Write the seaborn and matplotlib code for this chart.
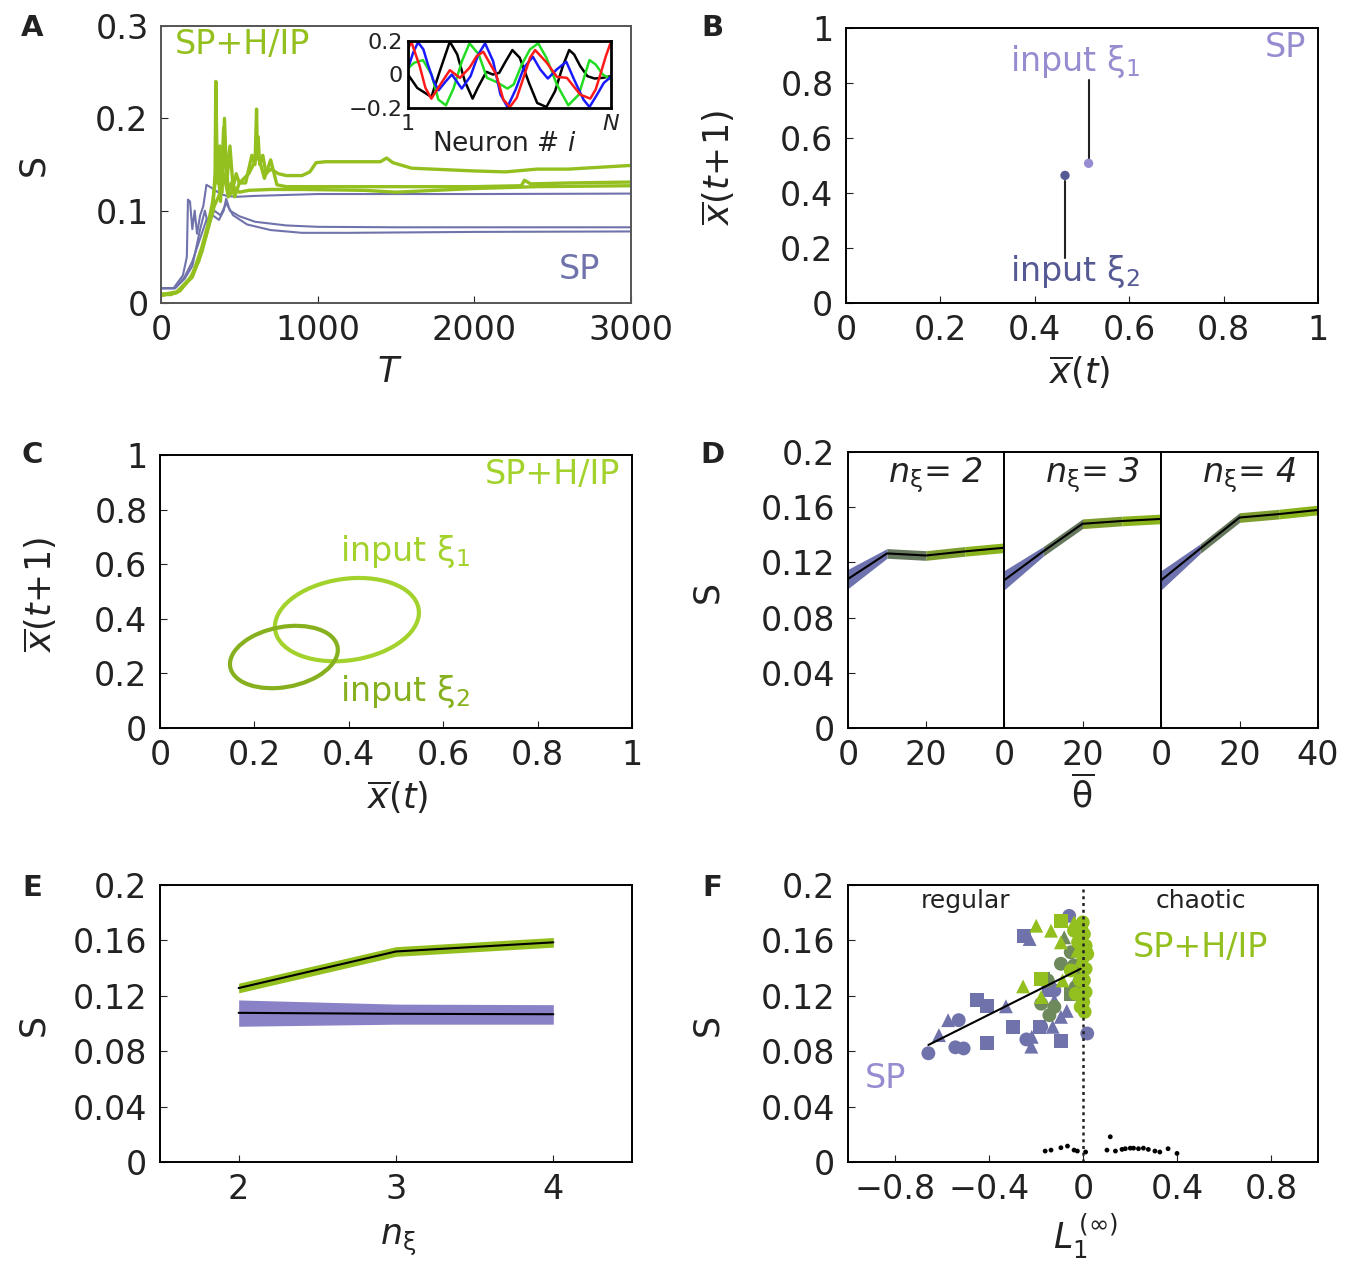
import matplotlib
matplotlib.use("Agg")
import matplotlib.pyplot as plt
import numpy as np
import pandas as pd
import seaborn as sns
from matplotlib.patches import Ellipse

# ── colours ──────────────────────────────────────────────────────────────────
PURPLE = "#7073ab"
PURPLE_LIGHT = "#958dd0"
PURPLE_DARK = "#565a94"
PURPLE_FILL = "#8a82c6"
GREEN = "#93c01f"
GREEN_LIGHT = "#a3d22c"
GREEN_DARK = "#86b01e"
MIXED = "#6e8a5c"

# ── A: S over learning time T ───────────────────────────────────────────────
a_sp1_t = [0, 80, 140, 165, 172, 185, 200, 215, 230, 250, 270, 290, 330, 380, 420, 480, 600, 1000, 2000, 3000]
a_sp1_s = [0.016, 0.016, 0.030, 0.050, 0.112, 0.110, 0.080, 0.100, 0.075, 0.095, 0.105, 0.128, 0.124, 0.118,
           0.116, 0.115, 0.116, 0.118, 0.118, 0.1185]
a_sp2_t = [0, 90, 150, 200, 250, 290, 330, 370, 400, 416, 440, 500, 600, 800, 1000, 1500, 2000, 3000]
a_sp2_s = [0.016, 0.016, 0.028, 0.045, 0.070, 0.090, 0.095, 0.090, 0.100, 0.113, 0.100, 0.094, 0.088, 0.084,
           0.0825, 0.082, 0.082, 0.082]
a_sp3_t = [0, 90, 150, 200, 250, 280, 300, 340, 380, 416, 460, 550, 700, 900, 1200, 2000, 3000]
a_sp3_s = [0.016, 0.016, 0.026, 0.040, 0.080, 0.100, 0.085, 0.100, 0.095, 0.108, 0.095, 0.085, 0.079, 0.076,
           0.076, 0.077, 0.0775]

a_hip1_t = [0, 60, 120, 180, 240, 290, 330, 345, 350, 360, 375, 390, 405, 420, 440, 460, 480, 500, 540, 580,
            600, 610, 615, 620, 630, 650, 670, 700, 750, 800, 900, 950, 990, 1050, 1400, 1440, 1480, 1600,
            2000, 2200, 2400, 2600, 3000]
a_hip1_s = [0.010, 0.009, 0.013, 0.025, 0.045, 0.075, 0.100, 0.140, 0.240, 0.130, 0.170, 0.120, 0.200, 0.130,
            0.170, 0.125, 0.140, 0.130, 0.130, 0.160, 0.150, 0.210, 0.160, 0.180, 0.150, 0.160, 0.140, 0.145,
            0.140, 0.138, 0.138, 0.142, 0.152, 0.153, 0.153, 0.157, 0.152, 0.146, 0.143, 0.142, 0.145, 0.145,
            0.149]
a_hip2_t = [0, 100, 200, 260, 300, 330, 360, 380, 400, 430, 450, 470, 500, 560, 620, 660, 700, 740, 800, 1000,
            1500, 2000, 2300, 2320, 2360, 2600, 3000]
a_hip2_s = [0.008, 0.011, 0.030, 0.060, 0.085, 0.110, 0.150, 0.110, 0.190, 0.120, 0.130, 0.115, 0.130, 0.140,
            0.160, 0.135, 0.155, 0.128, 0.126, 0.126, 0.126, 0.126, 0.127, 0.133, 0.129, 0.130, 0.131]
a_hip3_t = [0, 100, 200, 260, 300, 340, 380, 400, 430, 470, 500, 560, 700, 900, 1300, 1500, 2000, 2400, 3000]
a_hip3_s = [0.009, 0.012, 0.028, 0.055, 0.080, 0.105, 0.120, 0.140, 0.115, 0.125, 0.120, 0.122, 0.123, 0.123,
            0.122, 0.120, 0.124, 0.126, 0.127]

# inset: input patterns over neuron index
inset_red_i = [1, 2.6, 6.7, 9.5, 12.4, 17.3, 21.4, 26.3, 31, 34.5, 37.7, 44, 47.5, 50.7, 54, 57.3, 60.5, 63,
               68.7, 73.6, 78.5, 85, 89.9, 92.5, 94.8, 97.5, 100]
inset_red_v = [0.15, 0.196, 0.05, -0.08, -0.144, -0.05, 0.026, -0.02, 0.04, 0.11, 0.136, 0.0, -0.15, -0.194,
               -0.14, -0.02, 0.10, 0.146, 0.07, -0.014, -0.02, -0.12, -0.144, -0.09, 0.0, 0.11, 0.196]
inset_blue_i = [1, 3.5, 5.9, 8.5, 10.8, 13.5, 15.9, 19.2, 22.4, 27.2, 31.5, 35.3, 38.6, 42.5, 46.1, 49.5,
                53.5, 57.5, 61.9, 65.5, 69.2, 73.5, 78.2, 82, 86.6, 89.5, 93.2, 96.5, 100]
inset_blue_v = [0.036, 0.13, 0.192, 0.15, 0.056, -0.04, -0.094, -0.044, 0.0, -0.084, -0.01, 0.12, 0.186,
                0.08, -0.12, -0.194, -0.09, 0.04, 0.106, 0.03, -0.024, 0.03, 0.076, -0.03, -0.15, -0.194,
                -0.12, -0.05, -0.014]
inset_black_i = [1, 5.5, 12.4, 16.5, 21.4, 25, 28.7, 32.5, 35, 39.2, 42.4, 45.5, 48.7, 51.9, 55.5, 60,
                 64, 68.5, 72.7, 76.5, 79.6, 82, 85, 88.5, 92, 95.9, 100]
inset_black_v = [0.0, -0.08, -0.134, 0.02, 0.196, 0.12, -0.04, -0.144, -0.08, 0.016, 0.0, 0.01, 0.08, 0.146,
                 0.10, -0.05, -0.17, -0.194, -0.10, 0.05, 0.146, 0.12, 0.05, -0.01, -0.024, -0.02, -0.01]
inset_green_i = [1, 4, 8.3, 12.5, 15.8, 19.5, 23.3, 27.3, 31, 35.5, 39.5, 44, 49.5, 52.5, 56.5, 60.5, 64.5,
                 68.5, 73.6, 79.2, 84.3, 89.5, 92.5, 96, 100]
inset_green_v = [0.036, 0.07, 0.086, 0.0, -0.15, -0.184, -0.08, 0.08, 0.186, 0.12, -0.02, -0.044, -0.084,
                 -0.06, 0.06, 0.15, 0.186, 0.10, -0.06, -0.184, -0.12, 0.086, 0.06, 0.0, -0.03]

# ── B: SP fixed points ──────────────────────────────────────────────────────
b_xi1 = (0.514, 0.508)
b_xi2 = (0.464, 0.464)

# ── C: SP+H/IP limit cycles (centre x, centre y, width, height, angle) ──────
c_xi1 = (0.396, 0.397, 0.33, 0.278, 45)
c_xi2 = (0.2625, 0.26, 0.253, 0.201, 45)

# ── D: S vs mean threshold ──────────────────────────────────────────────────
d_theta = [0, 10, 20, 30, 40]
d_n2 = [0.108, 0.1265, 0.125, 0.128, 0.1306]
d_n3 = [0.107, 0.128, 0.148, 0.150, 0.1515]
d_n4 = [0.107, 0.130, 0.1525, 0.155, 0.158]
d_err = [0.007, 0.0035, 0.0035, 0.0035, 0.0035]
d_seg_colors = ["#6e72ae", "#66785e", "#7e9e2e", "#8ab41c"]

# ── E: S vs number of inputs ────────────────────────────────────────────────
e_n = [2, 3, 4]
e_hip = [0.1256, 0.152, 0.1586]
e_hip_err = [0.0035, 0.0035, 0.0035]
e_sp = [0.1077, 0.107, 0.1067]
e_sp_lo = [0.098, 0.0995, 0.0995]
e_sp_hi = [0.117, 0.114, 0.1136]

# ── F: S vs Lyapunov exponent ───────────────────────────────────────────────
f_sp_x = [-0.658, -0.543, -0.508, -0.529, -0.241, 0.018, -0.059, -0.122, -0.178, -0.150,
          -0.452, -0.410, -0.298, -0.407, -0.094, -0.185, -0.251, -0.143,
          -0.613, -0.574, -0.328, -0.220, -0.218, -0.129, -0.227, -0.069, -0.094, -0.122]
f_sp_y = [0.0785, 0.0828, 0.082, 0.1024, 0.0885, 0.0928, 0.1777, 0.1239, 0.0976, 0.1287,
          0.1167, 0.1124, 0.0976, 0.0861, 0.0876, 0.0976, 0.1634, 0.1239,
          0.0916, 0.1024, 0.1124, 0.0833, 0.0904, 0.0976, 0.161, 0.1091, 0.1048, 0.1167]
f_sp_m = ["o"] * 10 + ["s"] * 8 + ["^"] * 10
f_hip_x = [-0.199, -0.136, -0.094, -0.038, -0.255, -0.010, -0.178, -0.087, -0.024,
           -0.094, -0.178, -0.010,
           0.004, 0.011, 0.001, 0.011, 0.004, 0.011, 0.001, 0.007, -0.021, -0.013, -0.031, -0.038,
           -0.010, -0.052, 0.018, -0.001]
f_hip_y = [0.1706, 0.167, 0.1586, 0.173, 0.1268, 0.1455, 0.1191, 0.1311, 0.1526,
           0.1742, 0.1323, 0.167,
           0.1646, 0.1562, 0.1478, 0.1395, 0.1311, 0.1227, 0.1155, 0.1084, 0.1586, 0.1311, 0.1215, 0.167,
           0.112, 0.1383, 0.1502, 0.173]
f_hip_m = ["^"] * 9 + ["s"] * 3 + ["o"] * 16
f_mix_x = [-0.052, -0.094, -0.031, -0.150, -0.143, -0.122, 0.011, -0.038, -0.178, -0.171, -0.052, -0.080, -0.017]
f_mix_y = [0.1514, 0.1431, 0.1263, 0.1311, 0.106, 0.112, 0.1526, 0.1419, 0.1143, 0.1323, 0.1215, 0.1622, 0.1359]
f_mix_m = ["o"] * 9 + ["s"] * 2 + ["^"] * 2
f_chaos_x = [-0.161, -0.136, -0.094, -0.066, -0.038, -0.024, 0.011, 0.102, 0.116, 0.138, 0.166, 0.180,
             0.201, 0.215, 0.236, 0.257, 0.278, 0.306, 0.327, 0.362, 0.400]
f_chaos_y = [0.0079, 0.0086, 0.0103, 0.0115, 0.0086, 0.0079, 0.0072, 0.0086, 0.0182, 0.0079, 0.0091, 0.0096,
             0.0100, 0.0100, 0.0096, 0.0100, 0.0091, 0.0079, 0.0072, 0.0096, 0.0062]
f_fit_x = [-0.658, -0.01]
f_fit_y = [0.0845, 0.1395]

# ── figure setup ────────────────────────────────────────────────────────────
W, H = 1346, 1266
FS = 24
sns.set_style("ticks")
plt.rcParams["font.family"] = ["DejaVu Sans"]
plt.rcParams.update({
    "mathtext.fontset": "dejavusans",
    "xtick.direction": "in",
    "ytick.direction": "in",
    "xtick.major.size": 5,
    "ytick.major.size": 5,
    "xtick.major.pad": 8,
    "ytick.major.pad": 9,
    "xtick.labelsize": FS,
    "ytick.labelsize": FS,
    "xtick.color": "#222222",
    "ytick.color": "#222222",
})

fig = plt.figure(figsize=(W / 100, H / 100), dpi=100)


def rect(l, t, r, b):
    return [l / W, 1 - b / H, (r - l) / W, (b - t) / H]


def ftext(x, y, s, **kw):
    fig.text(x / W, 1 - y / H, s, ha="center", va="center", **kw)


def frame(ax, color="black", lw=1.4):
    for sp in ax.spines.values():
        sp.set_visible(True)
        sp.set_color(color)
        sp.set_linewidth(lw)
    ax.tick_params(top=False, right=False)


LAB = dict(fontsize=FS + 1, color="#222222")

# ── A ───────────────────────────────────────────────────────────────────────
axA = fig.add_axes(rect(161, 26, 631, 303))
for t, s in [(a_sp1_t, a_sp1_s), (a_sp2_t, a_sp2_s), (a_sp3_t, a_sp3_s)]:
    sns.lineplot(x=t, y=s, ax=axA, color=PURPLE, lw=1.5)
for t, s in [(a_hip1_t, a_hip1_s), (a_hip2_t, a_hip2_s), (a_hip3_t, a_hip3_s)]:
    sns.lineplot(x=t, y=s, ax=axA, color=GREEN, lw=2.4)
axA.set_xlim(0, 3000)
axA.set_ylim(0, 0.3)
axA.set_xticks([0, 1000, 2000, 3000])
axA.set_yticks([0, 0.1, 0.2, 0.3])
axA.set_yticklabels(["0", "0.1", "0.2", "0.3"])
frame(axA, color="#555555")
axA.text(0.03, 0.935, "SP+H/IP", transform=axA.transAxes, color=GREEN, fontsize=FS, va="center")
axA.text(0.89, 0.12, "SP", transform=axA.transAxes, color=PURPLE, fontsize=FS, va="center", ha="center")

axI = fig.add_axes(rect(408, 41, 611, 108))
for i, v, c in [(inset_black_i, inset_black_v, "black"), (inset_green_i, inset_green_v, "#22dd22"),
                (inset_blue_i, inset_blue_v, "#1a1aff"), (inset_red_i, inset_red_v, "#ff1a1a")]:
    sns.lineplot(x=i, y=v, ax=axI, color=c, lw=1.8)
axI.set_xlim(1, 100)
axI.set_ylim(-0.2, 0.2)
axI.set_xticks([1, 100])
axI.set_xticklabels(["1", "$N$"])
axI.set_yticks([-0.2, 0, 0.2])
axI.set_yticklabels(["\u22120.2", "0", "0.2"])
axI.tick_params(labelsize=16, length=0, pad=4)
frame(axI, lw=2)

ftext(33, 165, "S", rotation=90, **LAB)
ftext(390, 372, "$T$", **LAB)
ftext(504, 144, "Neuron # $i$", fontsize=19, color="#222222")

# ── B ───────────────────────────────────────────────────────────────────────
axB = fig.add_axes(rect(846, 28, 1318, 303))
axB.plot([b_xi1[0], b_xi1[0]], [b_xi1[1] + 0.02, 0.81], color="#222222", lw=1.5)
axB.plot([b_xi2[0], b_xi2[0]], [b_xi2[1] - 0.02, 0.165], color="#222222", lw=1.5)
sns.scatterplot(x=[b_xi1[0]], y=[b_xi1[1]], ax=axB, color=PURPLE_LIGHT, s=45, edgecolor="none")
sns.scatterplot(x=[b_xi2[0]], y=[b_xi2[1]], ax=axB, color=PURPLE_DARK, s=45, edgecolor="none")
axB.set_xlim(0, 1)
axB.set_ylim(0, 1)
ticks = [0, 0.2, 0.4, 0.6, 0.8, 1]
tlabs = ["0", "0.2", "0.4", "0.6", "0.8", "1"]
axB.set_xticks(ticks)
axB.set_xticklabels(tlabs)
axB.set_yticks(ticks)
axB.set_yticklabels(tlabs)
frame(axB)
axB.text(0.485, 0.88, r"input $\mathrm{\xi}_1$", color=PURPLE_LIGHT, fontsize=FS, ha="center", va="center")
axB.text(0.485, 0.115, r"input $\mathrm{\xi}_2$", color=PURPLE_DARK, fontsize=FS, ha="center", va="center")
axB.text(0.975, 0.93, "SP", color=PURPLE_LIGHT, fontsize=FS, ha="right", va="center")
ftext(718, 168, r"$\overline{x}(t\!+\!1)$", rotation=90, **LAB)
ftext(1080, 372, r"$\overline{x}(t)$", **LAB)

# ── C ───────────────────────────────────────────────────────────────────────
axC = fig.add_axes(rect(160, 455, 632, 728))
for (cx, cy, w, h, ang), col in [(c_xi1, GREEN_LIGHT), (c_xi2, GREEN_DARK)]:
    axC.add_patch(Ellipse((cx, cy), w, h, angle=ang, fill=False, edgecolor=col, lw=3))
axC.set_xlim(0, 1)
axC.set_ylim(0, 1)
axC.set_xticks(ticks)
axC.set_xticklabels(tlabs)
axC.set_yticks(ticks)
axC.set_yticklabels(tlabs)
frame(axC)
axC.text(0.975, 0.93, "SP+H/IP", color=GREEN_LIGHT, fontsize=FS, ha="right", va="center")
axC.text(0.52, 0.645, r"input $\mathrm{\xi}_1$", color=GREEN_LIGHT, fontsize=FS, ha="center", va="center")
axC.text(0.52, 0.135, r"input $\mathrm{\xi}_2$", color=GREEN_DARK, fontsize=FS, ha="center", va="center")
ftext(40, 595, r"$\overline{x}(t\!+\!1)$", rotation=90, **LAB)
ftext(398, 797, r"$\overline{x}(t)$", **LAB)

# ── D ───────────────────────────────────────────────────────────────────────
d_bounds = [(848, 1004), (1004, 1161), (1161, 1318)]
for k, (vals, nlab) in enumerate([(d_n2, 2), (d_n3, 3), (d_n4, 4)]):
    l, r = d_bounds[k]
    ax = fig.add_axes(rect(l, 452, r, 728))
    lo = np.array(vals) - np.array(d_err)
    hi = np.array(vals) + np.array(d_err)
    for j in range(len(d_theta) - 1):
        ax.fill_between(d_theta[j:j + 2], lo[j:j + 2], hi[j:j + 2], color=d_seg_colors[j], lw=0)
    sns.lineplot(x=d_theta, y=vals, ax=ax, color="black", lw=1.5)
    ax.set_xlim(0, 40)
    ax.set_ylim(0, 0.2)
    ax.set_xticks([0, 20, 40] if k == 2 else [0, 20])
    ax.set_yticks([0, 0.04, 0.08, 0.12, 0.16, 0.2])
    if k == 0:
        ax.set_yticklabels(["0", "0.04", "0.08", "0.12", "0.16", "0.2"])
    else:
        ax.set_yticklabels([])
        ax.tick_params(left=False)
    frame(ax)
    ax.text(0.56, 0.915, r"$n_{\mathrm{\xi}}$= %d" % nlab, transform=ax.transAxes, fontsize=FS,
            style="italic", ha="center", va="center", color="#222222")
ftext(707, 592, "S", rotation=90, **LAB)
ftext(1083, 795, r"$\overline{\mathrm{\theta}}$", **LAB)

# ── E ───────────────────────────────────────────────────────────────────────
axE = fig.add_axes(rect(160, 885, 632, 1162))
axE.fill_between(e_n, e_sp_lo, e_sp_hi, color=PURPLE_FILL, lw=0)
axE.fill_between(e_n, np.array(e_hip) - np.array(e_hip_err), np.array(e_hip) + np.array(e_hip_err),
                 color=GREEN, lw=0)
sns.lineplot(x=e_n, y=e_sp, ax=axE, color="black", lw=1.5)
sns.lineplot(x=e_n, y=e_hip, ax=axE, color="black", lw=1.5)
axE.set_xlim(1.5, 4.5)
axE.set_ylim(0, 0.2)
axE.set_xticks([2, 3, 4])
axE.set_yticks([0, 0.04, 0.08, 0.12, 0.16, 0.2])
axE.set_yticklabels(["0", "0.04", "0.08", "0.12", "0.16", "0.2"])
frame(axE)
ftext(33, 1025, "S", rotation=90, **LAB)
ftext(398, 1240, r"$n_{\mathrm{\xi}}$", **LAB)

# ── F ───────────────────────────────────────────────────────────────────────
axF = fig.add_axes(rect(848, 885, 1318, 1162))
axF.axvline(0, color="#222222", lw=1.8, ls=(0, (1.2, 1.5)))
for xs, ys, ms, col in [(f_sp_x, f_sp_y, f_sp_m, PURPLE), (f_mix_x, f_mix_y, f_mix_m, MIXED),
                        (f_hip_x, f_hip_y, f_hip_m, GREEN)]:
    df = pd.DataFrame({"x": xs, "y": ys, "m": ms})
    sns.scatterplot(data=df, x="x", y="y", style="m", markers={"o": "o", "s": "s", "^": "^"},
                    ax=axF, color=col, s=100, edgecolor="none", legend=False)
sns.scatterplot(x=f_chaos_x, y=f_chaos_y, ax=axF, color="black", s=12, edgecolor="none")
sns.lineplot(x=f_fit_x, y=f_fit_y, ax=axF, color="black", lw=1.5)
axF.set_xlim(-1, 1)
axF.set_ylim(0, 0.2)
axF.set_xticks([-0.8, -0.4, 0, 0.4, 0.8])
axF.set_xticklabels(["\u22120.8", "\u22120.4", "0", "0.4", "0.8"])
axF.set_yticks([0, 0.04, 0.08, 0.12, 0.16, 0.2])
axF.set_yticklabels(["0", "0.04", "0.08", "0.12", "0.16", "0.2"])
frame(axF)
axF.text(-0.5, 0.1885, "regular", fontsize=18, ha="center", va="center", color="#222222")
axF.text(0.5, 0.1885, "chaotic", fontsize=18, ha="center", va="center", color="#222222")
axF.text(0.5, 0.155, "SP+H/IP", fontsize=FS, ha="center", va="center", color=GREEN)
axF.text(-0.84, 0.06, "SP", fontsize=FS, ha="center", va="center", color=PURPLE_LIGHT)
ftext(707, 1025, "S", rotation=90, **LAB)
ftext(1085, 1236, r"$L_1^{\,(\infty)}$", **LAB)

for ax in fig.axes:
    ax.set_xlabel("")
    ax.set_ylabel("")

# ── panel letters ───────────────────────────────────────────────────────────
for (x, y), lab in zip([(32, 28), (712, 28), (32, 455), (712, 455), (32, 888), (712, 888)], "ABCDEF"):
    ftext(x, y, lab, fontsize=21, fontweight="bold", color="#222222")

fig.savefig("out.png", dpi=100)
